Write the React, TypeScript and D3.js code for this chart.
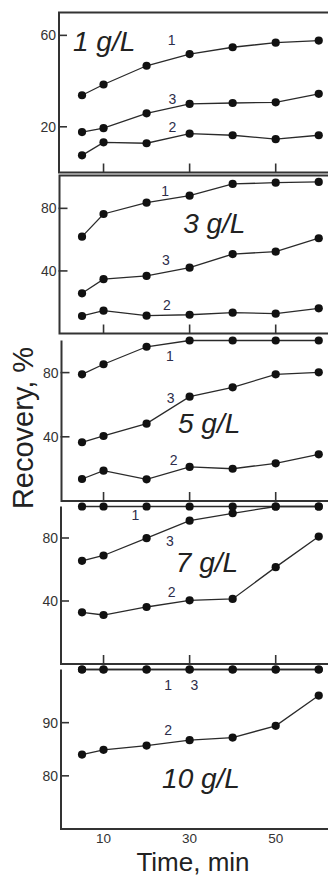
import React from "react";
import * as d3 from "d3";

// Sampling times, min
const times = [5, 10, 20, 30, 40, 50, 60];

// Recovery, % — curve 1
const rec1_1gL = [33.8, 38.5, 46.7, 51.8, 54.8, 56.8, 57.7];
const rec1_3gL = [61.9, 76.4, 83.6, 88.1, 95.6, 96.4, 96.9];
const rec1_5gL = [78.9, 85.2, 96.1, 100, 100, 100, 100];
const rec1_7gL = [100, 100, 100, 100, 100, 100, 100];
const rec1_10gL = [100, 100, 100, 100, 100, 100, 100];

// Recovery, % — curve 2
const rec2_1gL = [7.5, 13.2, 12.8, 17.0, 16.3, 14.6, 16.3];
const rec2_3gL = [11.2, 14.6, 11.4, 12.0, 13.3, 12.7, 16.1];
const rec2_5gL = [13.7, 18.9, 13.5, 21.2, 20.1, 23.5, 29.1];
const rec2_7gL = [32.8, 31.1, 36.2, 40.4, 41.3, 61.5, 80.9];
const rec2_10gL = [84.0, 84.9, 85.7, 86.7, 87.2, 89.4, 95.1];

// Recovery, % — curve 3
const rec3_1gL = [17.7, 19.4, 25.9, 30.0, 30.4, 30.7, 34.4];
const rec3_3gL = [25.7, 34.7, 36.8, 42.1, 50.8, 52.3, 60.9];
const rec3_5gL = [36.6, 40.5, 48.2, 65.0, 70.8, 78.9, 80.2];
const rec3_7gL = [65.5, 68.9, 79.9, 91.0, 95.7, 100, 100];
const rec3_10gL = [100, 100, 100, 100, 100, 100, 100];

// Panel titles and y tick values
const concentrations = ["1 g/L", "3 g/L", "5 g/L", "7 g/L", "10 g/L"];
const yTicks = [[20, 60], [40, 80], [40, 80], [40, 80], [80, 90]];
const xTicks = [10, 30, 50];

const W = 328;
const H = 876;
const FONT = "'Liberation Sans', Arial, Helvetica, sans-serif";
const INK = "#222";

// Layout of each stacked panel: y-domain, pixel band, frame left edge,
// whether a top border is drawn, and placement of the annotations
// (given in data units: [time, recovery]).
const panels = [
  {
    domain: [0, 70], band: [172.5, 12.5], left: 59, top: true, bottomTicks: true,
    series: [rec1_1gL, rec2_1gL, rec3_1gL],
    title: [2.9, 53.2],
    labels: [["1", 25.8, 55.8], ["3", 26.0, 30.0], ["2", 26.0, 17.9]],
  },
  {
    domain: [0, 101], band: [333.5, 175.5], left: 59.5, top: true, bottomTicks: true,
    series: [rec1_3gL, rec2_3gL, rec3_3gL],
    title: [28.5, 64.1],
    labels: [["1", 24.3, 88.1], ["3", 24.5, 43.8], ["2", 24.7, 15.0]],
  },
  {
    domain: [0, 100], band: [501, 340.5], left: 61.5, top: false, bottomTicks: true,
    series: [rec1_5gL, rec2_5gL, rec3_5gL],
    title: [27.3, 42.2],
    labels: [["1", 25.4, 87.2], ["3", 25.6, 60.8], ["2", 26.3, 22.4]],
  },
  {
    domain: [0, 100], band: [664, 506.5], left: 61, top: false, bottomTicks: true,
    series: [rec1_7gL, rec2_7gL, rec3_7gL],
    title: [26.8, 58.1],
    labels: [["1", 17.4, 91.5], ["3", 25.4, 75.2], ["2", 25.8, 42.5]],
  },
  {
    domain: [70, 100], band: [829, 669.5], left: 61, top: false, bottomTicks: false,
    series: [rec1_10gL, rec2_10gL, rec3_10gL],
    title: [23.6, 77.8],
    labels: [["1", 25.0, 96.1], ["3", 31.1, 96.1], ["2", 25.0, 87.7]],
  },
];

const x = d3.scaleLinear().domain([0, 62.5]).range([60.5, 329.5]);

function Panel({ p, i }: { p: (typeof panels)[number]; i: number }) {
  const y = d3.scaleLinear().domain(p.domain).range(p.band);
  const [yBottom, yTop] = p.band;
  const line = d3
    .line<number>()
    .x((_, k) => x(times[k]))
    .y((v) => y(v));
  const right = W + 10;
  const framePath = p.top
    ? `M${right},${yTop} H${p.left} V${yBottom} H${right}`
    : `M${p.left},${yTop} V${yBottom} H${right}`;

  return (
    <g>
      <path d={framePath} fill="none" stroke="#333" strokeWidth={2} />
      {p.bottomTicks &&
        xTicks.map((t) => (
          <line key={t} x1={x(t)} x2={x(t)} y1={yBottom} y2={yBottom - 9} stroke="#333" strokeWidth={1.6} />
        ))}
      {yTicks[i].map((v) => (
        <g key={v}>
          <line x1={p.left - 1} x2={p.left + 8} y1={y(v)} y2={y(v)} stroke="#333" strokeWidth={1.6} />
          <text x={p.left - 3} y={y(v) + 5} textAnchor="end" fontSize={14} fontFamily={FONT} fill="#333">
            {v}
          </text>
        </g>
      ))}
      {p.series.map((s, k) => (
        <g key={k}>
          <path d={line(s) ?? ""} fill="none" stroke="#2a2a2a" strokeWidth={1.3} />
          {s.map((v, j) => (
            <circle key={j} cx={x(times[j])} cy={y(v)} r={4.1} fill="#111" />
          ))}
        </g>
      ))}
      {p.labels.map(([txt, t, v], k) => (
        <text
          key={k}
          x={x(t as number)}
          y={y(v as number)}
          textAnchor="middle"
          fontSize={14}
          fontFamily={FONT}
          fill="#2d2d4a"
        >
          {txt}
        </text>
      ))}
      <text
        x={x(p.title[0])}
        y={y(p.title[1])}
        fontSize={28}
        fontStyle="italic"
        fontFamily={FONT}
        fill={INK}
      >
        {concentrations[i]}
      </text>
    </g>
  );
}

export default function App() {
  const last = panels[panels.length - 1];
  return (
    <div style={{ position: "fixed", left: 0, top: 0 }}>
      <svg width={W} height={H} viewBox={`0 0 ${W} ${H}`} style={{ display: "block", background: "#fff" }}>
        <rect width={W} height={H} fill="#fff" />
        {panels.map((p, i) => (
          <Panel key={i} p={p} i={i} />
        ))}
        {xTicks.map((t) => (
          <text
            key={t}
            x={x(t)}
            y={last.band[0] + 14}
            textAnchor="middle"
            fontSize={13.5}
            fontFamily={FONT}
            fill="#333"
          >
            {t}
          </text>
        ))}
        <text x={193} y={870.5} textAnchor="middle" fontSize={26} fontFamily={FONT} fill={INK}>
          Time, min
        </text>
        <text
          transform="translate(33,428) rotate(-90)"
          textAnchor="middle"
          fontSize={29}
          fontFamily={FONT}
          fill={INK}
        >
          Recovery, %
        </text>
      </svg>
    </div>
  );
}
